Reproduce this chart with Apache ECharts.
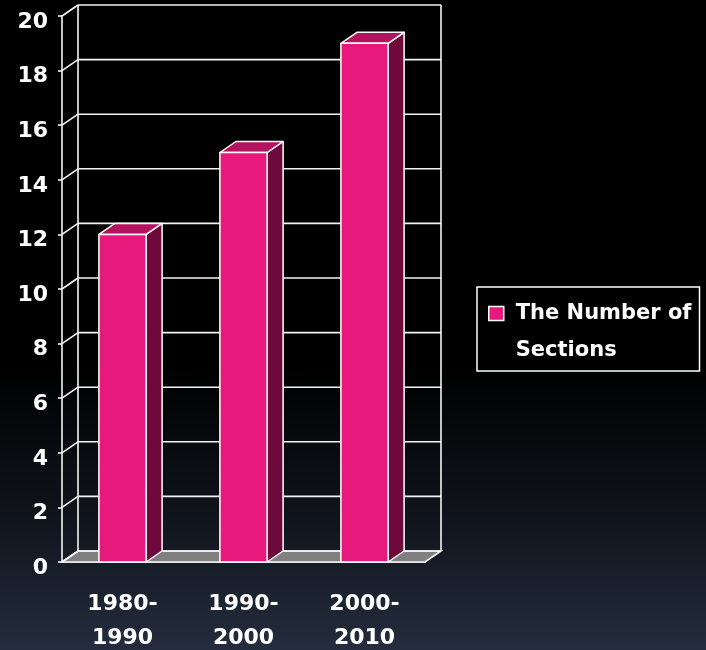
<!DOCTYPE html>
<html>
<head>
<meta charset="utf-8">
<script src="https://cdn.jsdelivr.net/npm/echarts@6/dist/echarts.min.js"></script>
<style>
html, body { margin: 0; padding: 0; background: #000; }
#chart { width: 706px; height: 650px; }
</style>
</head>
<body>
<div id="chart"></div>
<script>
// data
var categories = ['1980-\n1990', '1990-\n2000', '2000-\n2010'];
var sections = [12, 15, 19];
var yTicks = [0, 2, 4, 6, 8, 10, 12, 14, 16, 18, 20];
var seriesName = 'The Number of\nSections';

var DX = 16, DY = -11; // 3d depth offset
var FONT = '"DejaVu Sans", sans-serif';
var lineStyle = { stroke: '#f4f4f4', lineWidth: 1.6 };

function renderWall(params, api) {
  var v = api.value(1);
  var cs = params.coordSys;
  var xL = cs.x, xR = cs.x + cs.width;
  var y = api.coord([0, v])[1];
  var children = [];
  if (v === yTicks[0]) {
    // gray floor
    children.push({
      type: 'polygon',
      shape: { points: [[xL, y], [xR, y], [xR + DX, y + DY], [xL + DX, y + DY]] },
      style: { fill: '#808080', stroke: '#f4f4f4', lineWidth: 1.6 }
    });
  }
  children.push({ type: 'line', shape: { x1: xL, y1: y, x2: xL + DX, y2: y + DY }, style: lineStyle });
  children.push({ type: 'line', shape: { x1: xL + DX, y1: y + DY, x2: xR + DX, y2: y + DY }, style: lineStyle });
  if (v === yTicks[yTicks.length - 1]) {
    var y0 = api.coord([0, yTicks[0]])[1];
    children.push({ type: 'line', shape: { x1: xL + DX, y1: y + DY, x2: xL + DX, y2: y0 + DY }, style: lineStyle });
    children.push({ type: 'line', shape: { x1: xR + DX, y1: y + DY, x2: xR + DX, y2: y0 + DY }, style: lineStyle });
  }
  return { type: 'group', children: children };
}

function renderBar(params, api) {
  var idx = api.value(0);
  var top = api.coord([idx, api.value(1)]);
  var base = api.coord([idx, 0]);
  var w = api.size([1, 0])[0] * 0.39;
  var x0 = top[0] - w / 2, x1 = top[0] + w / 2;
  var yT = top[1], yB = base[1];
  var st = function (fill) {
    return { fill: fill, stroke: '#ffffff', lineWidth: 1.5, lineJoin: 'round' };
  };
  return {
    type: 'group',
    children: [
      { type: 'polygon', shape: { points: [[x1, yB], [x1 + DX, yB + DY], [x1 + DX, yT + DY], [x1, yT]] }, style: st('#6e0a3b') },
      { type: 'polygon', shape: { points: [[x0, yT], [x1, yT], [x1 + DX, yT + DY], [x0 + DX, yT + DY]] }, style: st('#b3125f') },
      { type: 'rect', shape: { x: x0, y: yT, width: w, height: yB - yT }, style: st('#e8197c') }
    ]
  };
}

var chart = echarts.init(document.getElementById('chart'));
chart.setOption({
  animation: false,
  backgroundColor: {
    type: 'linear', x: 0, y: 0, x2: 0, y2: 1,
    colorStops: [
      { offset: 0, color: '#000000' },
      { offset: 0.56, color: '#000000' },
      { offset: 0.8, color: '#10141c' },
      { offset: 1, color: '#242d3e' }
    ]
  },
  grid: { left: 62, right: 281, top: 16, bottom: 88, outerBoundsMode: 'none', containLabel: false },
  legend: {
    left: 477,
    top: 287,
    orient: 'vertical',
    padding: [8, 8, 2, 11],
    borderColor: '#ffffff',
    borderWidth: 1.5,
    // square at the top-left of a taller box so it lines up with the first text line
    icon: 'path://M0,0H15V14H0Z M22,51',
    itemWidth: 22,
    itemHeight: 51,
    itemStyle: { color: '#e8197c', borderColor: '#ffffff', borderWidth: 1.5 },
    textStyle: {
      color: '#ffffff', fontSize: 21, lineHeight: 37, fontFamily: FONT, fontWeight: 'bold'
    },
    data: [seriesName]
  },
  xAxis: {
    type: 'category',
    data: categories,
    axisLine: { lineStyle: { color: '#f4f4f4', width: 1.6 } },
    axisTick: { length: 9, lineStyle: { color: '#f4f4f4', width: 1.6 } },
    axisLabel: { color: '#ffffff', fontSize: 22, lineHeight: 34, fontFamily: FONT, fontWeight: 'bold', margin: 25 }
  },
  yAxis: {
    type: 'value',
    min: 0,
    max: 20,
    interval: 2,
    axisLine: { show: true, lineStyle: { color: '#f4f4f4', width: 1.6 } },
    axisTick: { show: true, length: 4, lineStyle: { color: '#f4f4f4', width: 1.6 } },
    splitLine: { show: false },
    axisLabel: {
      color: '#ffffff', fontSize: 22, fontFamily: FONT, fontWeight: 'bold', margin: 14,
      verticalAlign: 'top', lineHeight: 12
    }
  },
  series: [
    {
      name: 'wall',
      type: 'custom',
      clip: false,
      silent: true,
      z: 1,
      renderItem: renderWall,
      data: yTicks.map(function (v) { return [0, v]; })
    },
    {
      name: seriesName,
      type: 'custom',
      clip: false,
      z: 3,
      itemStyle: { color: '#e8197c' },
      renderItem: renderBar,
      data: sections.map(function (v, i) { return [i, v]; })
    }
  ]
});
</script>
</body>
</html>
